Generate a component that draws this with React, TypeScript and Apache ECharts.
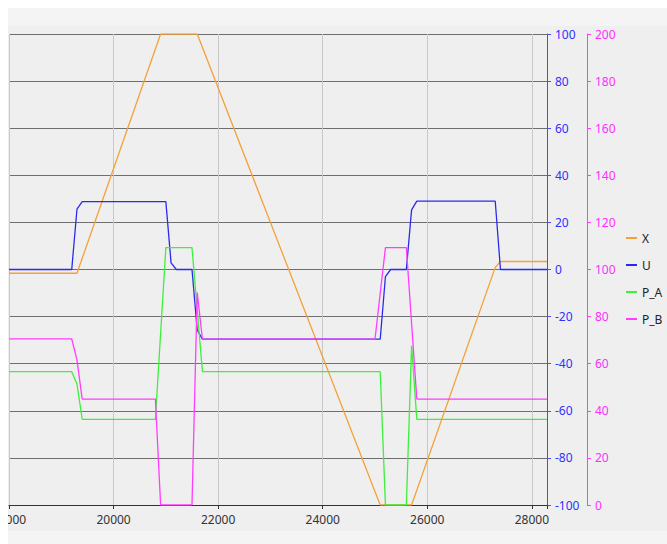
import React, { useEffect, useRef } from "react";
import * as echarts from "echarts";

// Time axis (ms) and signal samples
const xTimes = [18000, 19300, 20900, 21600, 25100, 25700, 27300, 27400, 28290];
const xValues = [-1.6, -1.6, 100, 100, -100, -100, 0.9, 3.4, 3.4];

const uTimes = [18000, 19200, 19300, 19400, 21000, 21100, 21200, 21500, 21600, 21700, 25100, 25200, 25300, 25600, 25700, 25800, 27300, 27400, 28290];
const uValues = [0, 0, 25.6, 28.8, 28.8, 2.8, 0, 0, -25.7, -29.6, -29.6, -3, 0, 0, 25.3, 29, 29, 0, 0];

const paTimes = [18000, 19200, 19300, 19400, 20800, 21000, 21500, 21700, 25100, 25200, 25600, 25700, 25800, 28290];
const paValues = [56.6, 56.6, 51.4, 36.4, 36.4, 109.3, 109.3, 56.6, 56.6, 0, 0, 67.6, 36.4, 36.4];

const pbTimes = [18000, 19200, 19300, 19400, 20800, 20900, 21500, 21600, 21700, 25000, 25200, 25600, 25800, 28290];
const pbValues = [70.5, 70.5, 61.6, 45, 45, 0, 0, 90.2, 70.4, 70.4, 109.3, 109.3, 45, 45];

const seriesNames = ["X", "U", "P_A", "P_B"];
const seriesColors = ["#f5a038", "#2a2aef", "#3cf03c", "#ff3cff"];

const timeMin = 18000;
const timeMax = 28290;
const timeStep = 2000;

const FONT = '"Segoe UI", "Noto Sans", sans-serif';

const zip = (t: number[], v: number[]) => t.map((x, i) => [x, v[i]]);

export default function App() {
  const ref = useRef<HTMLDivElement>(null);

  useEffect(() => {
    if (!ref.current) return;
    const chart = echarts.init(ref.current, null, { renderer: "svg" });

    const sets = [
      { data: zip(xTimes, xValues), axis: 0 },
      { data: zip(uTimes, uValues), axis: 0 },
      { data: zip(paTimes, paValues), axis: 1 },
      { data: zip(pbTimes, pbValues), axis: 1 },
    ];

    chart.setOption({
      animation: false,
      backgroundColor: "transparent",
      textStyle: { fontFamily: FONT },
      grid: {
        left: 1,
        right: 120,
        top: 26,
        bottom: 39,
        containLabel: false,
        outerBoundsMode: "none",
      },
      legend: {
        orient: "vertical",
        left: 618,
        top: 223,
        padding: 0,
        icon: "rect",
        itemWidth: 11,
        itemHeight: 2,
        itemGap: 13,
        data: seriesNames,
        textStyle: { color: "#222", fontSize: 12, lineHeight: 14, fontFamily: FONT },
      },
      xAxis: {
        type: "value",
        min: timeMin,
        max: timeMax,
        interval: timeStep,
        axisLine: { show: true, onZero: false, lineStyle: { color: "#333", width: 1 } },
        axisTick: { show: true, length: 4, lineStyle: { color: "#333" } },
        axisLabel: {
          color: "#333",
          fontSize: 12,
          fontFamily: FONT,
          margin: 8,
          formatter: (v: number) => (v % timeStep === 0 ? String(v) : ""),
        },
        splitLine: { show: true, lineStyle: { color: "#c8c8c8", width: 1 } },
      },
      yAxis: [
        {
          type: "value",
          position: "right",
          min: -100,
          max: 100,
          interval: 20,
          axisLine: { show: true, lineStyle: { color: "#4a4aff", width: 1 } },
          axisTick: { show: true, length: 4, lineStyle: { color: "#4a4aff" } },
          axisLabel: { color: "#3030ff", fontSize: 12, fontFamily: FONT, margin: 8 },
          splitLine: { show: true, lineStyle: { color: "#6e6e6e", width: 1 } },
        },
        {
          type: "value",
          position: "right",
          offset: 40,
          min: 0,
          max: 200,
          interval: 20,
          axisLine: { show: true, lineStyle: { color: "#ff3cff", width: 1 } },
          axisTick: { show: true, length: 4, lineStyle: { color: "#ff3cff" } },
          axisLabel: { color: "#ff2eff", fontSize: 12, fontFamily: FONT, margin: 8 },
          splitLine: { show: false },
        },
      ],
      series: sets.map((s, i) => ({
        name: seriesNames[i],
        type: "line",
        yAxisIndex: s.axis,
        data: s.data,
        showSymbol: false,
        symbol: "none",
        color: seriesColors[i],
        lineStyle: { color: seriesColors[i], width: 1.3 },
        clip: true,
      })),
    });

    return () => chart.dispose();
  }, []);

  return (
    <div
      style={{
        position: "fixed",
        left: 8,
        top: 8,
        width: 659,
        height: 536,
        background:
          "linear-gradient(to bottom, #f5f4f5 0px, #f5f4f5 18px, #efefef 18px, #efefef 523px, #f5f4f5 523px)",
      }}
    >
      <div ref={ref} style={{ width: 659, height: 536 }} />
    </div>
  );
}
